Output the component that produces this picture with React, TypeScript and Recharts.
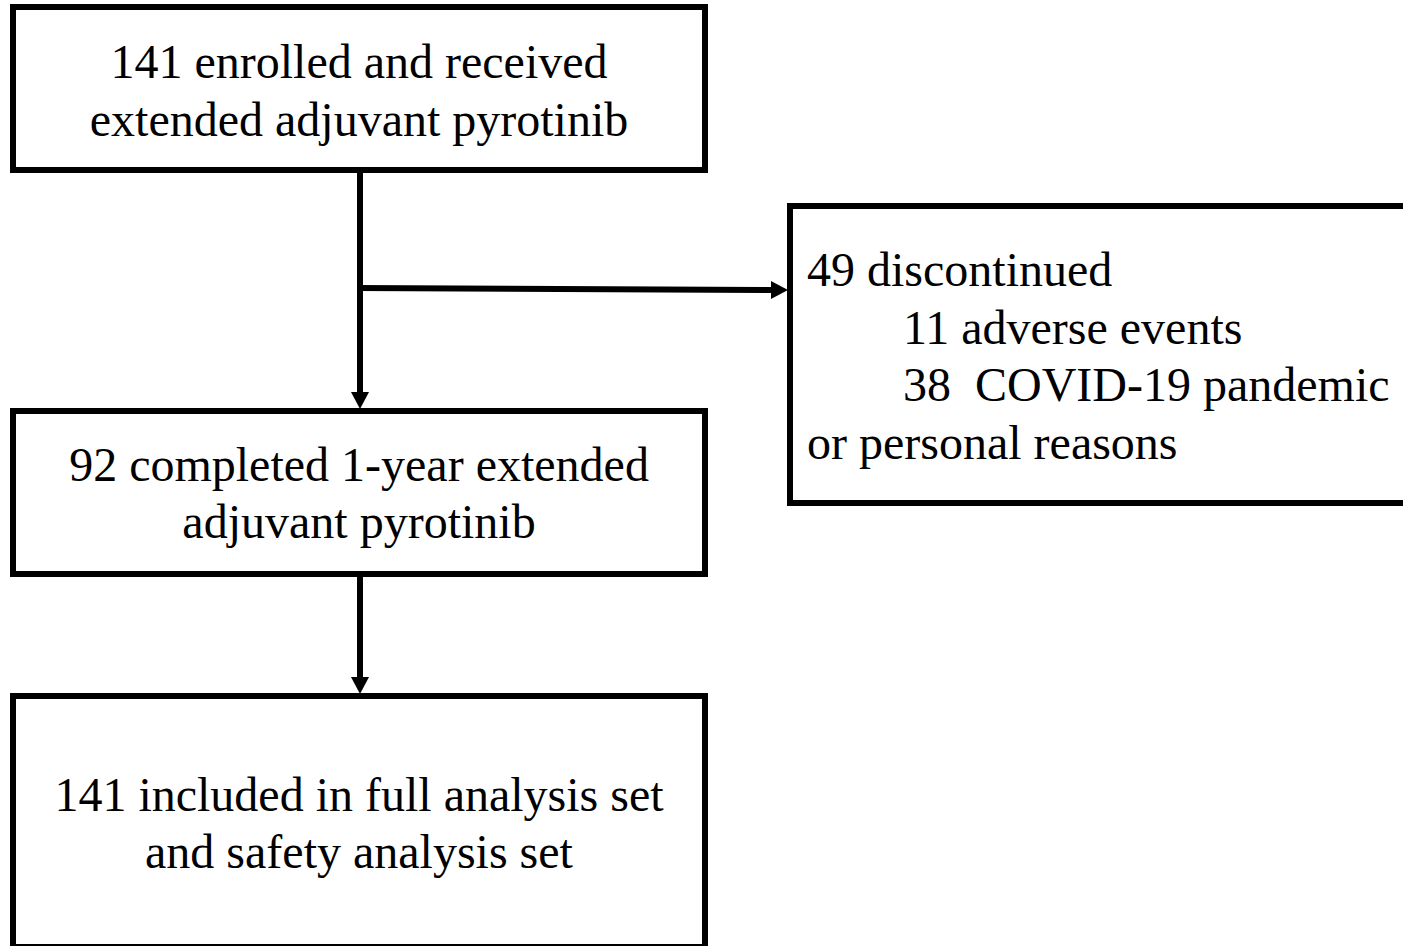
import React from "react";
import {
  ComposedChart,
  XAxis,
  YAxis,
  ReferenceArea,
  ReferenceLine,
  Scatter,
} from "recharts";

const W = 1403;
const H = 946;

// Flow boxes in chart units (x: 0..1403, y: 0..946 top-down)
const boxes = [
  { id: "enrolled", x1: 13, x2: 705, y1: 7, y2: 170 },
  { id: "discontinued", x1: 790, x2: 1412, y1: 206, y2: 503 },
  { id: "completed", x1: 13, x2: 705, y1: 411, y2: 574 },
  { id: "analysis", x1: 13, x2: 705, y1: 696, y2: 947 },
];

// Connector segments
const connectors = [
  { id: "c1", from: { x: 360, y: 170 }, to: { x: 360, y: 395 } },
  { id: "c2", from: { x: 357, y: 288 }, to: { x: 775, y: 290 } },
  { id: "c3", from: { x: 360, y: 574 }, to: { x: 360, y: 680 } },
];

// Arrow heads (tip positions)
const arrowHeads = [
  { x: 360, y: 409, dir: "down" },
  { x: 788, y: 290, dir: "right" },
  { x: 360, y: 694, dir: "down" },
];

// Text lines
const labels = [
  { x: 359, y: 78, text: "141 enrolled and received", anchor: "middle" },
  { x: 359, y: 136, text: "extended adjuvant pyrotinib", anchor: "middle" },
  { x: 359, y: 481, text: "92 completed 1-year extended", anchor: "middle" },
  { x: 359, y: 538, text: "adjuvant pyrotinib", anchor: "middle" },
  { x: 359, y: 811, text: "141 included in full analysis set", anchor: "middle" },
  { x: 359, y: 868, text: "and safety analysis set", anchor: "middle" },
  { x: 807, y: 286, text: "49 discontinued", anchor: "start" },
  { x: 903, y: 344, text: "11 adverse events", anchor: "start" },
  { x: 903, y: 401, text: "38  COVID-19 pandemic", anchor: "start" },
  { x: 807, y: 459, text: "or personal reasons", anchor: "start" },
];

const FONT = "'Liberation Serif', 'Times New Roman', serif";

const ArrowShape = (props: any) => {
  const { cx, cy, payload } = props;
  if (cx == null || cy == null) return null;
  const len = 17;
  const half = 9;
  let pts = "";
  if (payload.dir === "down") {
    pts = `${cx},${cy} ${cx - half},${cy - len} ${cx + half},${cy - len}`;
  } else {
    pts = `${cx},${cy} ${cx - len},${cy - half} ${cx - len},${cy + half}`;
  }
  return <polygon points={pts} fill="#000" stroke="none" />;
};

const TextShape = (props: any) => {
  const { cx, cy, payload } = props;
  if (cx == null || cy == null) return null;
  return (
    <text
      x={cx}
      y={cy}
      textAnchor={payload.anchor}
      fontFamily={FONT}
      fontSize={48}
      fill="#000"
      style={{ whiteSpace: "pre" }}
      xmlSpace="preserve"
    >
      {payload.text}
    </text>
  );
};

export default function App() {
  return (
    <div style={{ position: "absolute", left: 0, top: 0, background: "#fff" }}>
      <ComposedChart
        width={W}
        height={H}
        margin={{ top: 0, right: 0, bottom: 0, left: 0 }}
      >
        <XAxis
          type="number"
          dataKey="x"
          domain={[0, W]}
          allowDataOverflow
          hide
        />
        <YAxis
          type="number"
          dataKey="y"
          domain={[0, H]}
          reversed
          allowDataOverflow
          hide
        />
        {boxes.map((b) => (
          <ReferenceArea
            key={b.id}
            x1={b.x1}
            x2={b.x2}
            y1={b.y1}
            y2={b.y2}
            fill="#fff"
            fillOpacity={1}
            stroke="#000"
            strokeWidth={6}
            ifOverflow="visible"
          />
        ))}
        {connectors.map((c) => (
          <ReferenceLine
            key={c.id}
            segment={[c.from, c.to]}
            stroke="#000"
            strokeWidth={6}
            ifOverflow="visible"
          />
        ))}
        <Scatter
          data={arrowHeads}
          dataKey="y"
          shape={<ArrowShape />}
          isAnimationActive={false}
        />
        <Scatter
          data={labels}
          dataKey="y"
          shape={<TextShape />}
          isAnimationActive={false}
        />
      </ComposedChart>
    </div>
  );
}
